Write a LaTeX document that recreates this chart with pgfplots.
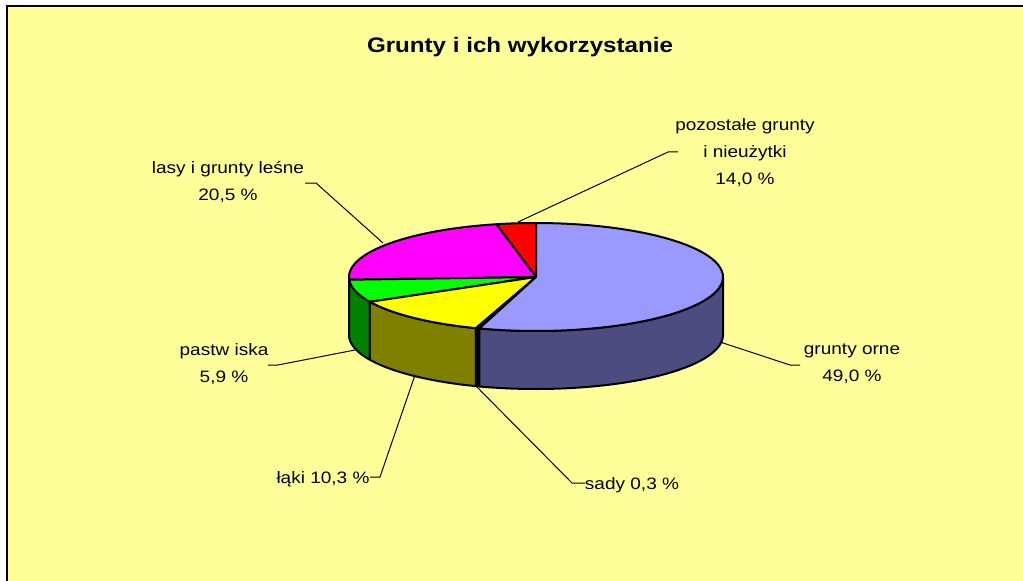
\documentclass[border=0pt]{standalone}
\usepackage{pgfplots}
\pgfplotsset{compat=1.18}
\usepackage{fontspec}
\setmainfont{Liberation Sans}[FakeStretch=1.15]
\definecolor{bgyel}{HTML}{FFFF99}
\definecolor{cblue}{HTML}{9999FF}
\definecolor{cblueside}{HTML}{4C4C80}
\definecolor{cyel}{HTML}{FFFF00}
\definecolor{cyelside}{HTML}{808000}
\definecolor{cgreen}{HTML}{00FF00}
\definecolor{cgreenside}{HTML}{008000}
\definecolor{cmag}{HTML}{FF00FF}
\definecolor{cmagside}{HTML}{800080}
\definecolor{cred}{HTML}{FF0000}
\definecolor{csady}{HTML}{000000}
% slice shares (percent of the drawn pie, counter-clockwise from the top)
\def\vRed{3.4}
\def\vMag{22.4}
\def\vGreen{6.8}
\def\vYel{12.2}
\def\vSady{0.3}
\def\vBlue{54.9}
\pgfmathsetmacro\aA{90}
\pgfmathsetmacro\aB{\aA+3.6*\vRed}
\pgfmathsetmacro\aC{\aB+3.6*\vMag}
\pgfmathsetmacro\aD{\aC+3.6*\vGreen}
\pgfmathsetmacro\aE{\aD+3.6*\vYel}
\pgfmathsetmacro\aF{\aE+3.6*\vSady}
\pgfmathsetmacro\aG{\aF+3.6*\vBlue}
\newcommand{\sideface}[3]{%
  \addplot[fill=#3, draw=black, line width=1.5pt, line join=round, domain=#1:#2, samples=60]
    ({536+187*cos(x)},{277-54*sin(x)})
    -- (axis cs:{536+187*cos(#2)},{335-54*sin(#2)})
    arc[start angle=#2, end angle=#1, x radius=140.25pt, y radius=40.5pt] -- cycle;}
\newcommand{\topface}[3]{%
  \addplot[fill=#3, draw=black, line width=1.5pt, line join=round, domain=#1:#2, samples=60]
    ({536+187*cos(x)},{277-54*sin(x)}) -- (axis cs:536,277) -- cycle;}
\begin{document}
\begin{tikzpicture}
\begin{axis}[x=0.75pt, y=0.75pt, y dir=reverse, xmin=0, xmax=1023, ymin=0, ymax=581,
  hide axis, xtick=\empty, ytick=\empty, clip=false]
\coordinate (BL) at (axis cs:0,581);
\coordinate (TR) at (axis cs:1023,0);
\fill[white] (axis cs:0,0) rectangle (axis cs:1023,581);
\fill[bgyel] (axis cs:7,6) rectangle (axis cs:1023,581);
\draw[line width=1.5pt] (axis cs:7,581) -- (axis cs:7,6) -- (axis cs:1023,6);
% side faces (front half only)
\sideface{180}{\aC}{cmagside}
\sideface{\aC}{\aD}{cgreenside}
\sideface{\aD}{\aE}{cyelside}
\sideface{\aE}{\aF}{csady}
\sideface{\aF}{360}{cblueside}
% top faces
\topface{\aA}{\aB}{cred}
\topface{\aB}{\aC}{cmag}
\topface{\aC}{\aD}{cgreen}
\topface{\aD}{\aE}{cyel}
\topface{\aE}{\aF}{csady}
\topface{\aF}{\aG}{cblue}
% leader lines
\addplot[black, line width=0.75pt, no marks] coordinates {(678,152) (668,152) (518,222)};
\addplot[black, line width=0.75pt, no marks] coordinates {(305,183) (316,183) (383,243)};
\addplot[black, line width=0.75pt, no marks] coordinates {(268,365) (278,365) (355,350)};
\addplot[black, line width=0.75pt, no marks] coordinates {(370,477) (380,477) (415,375)};
\addplot[black, line width=0.75pt, no marks] coordinates {(585,483) (572,483) (476,386)};
\addplot[black, line width=0.75pt, no marks] coordinates {(720,342) (790,365) (800,365)};
% texts
\node[font=\fontsize{15.75}{18}\selectfont\bfseries, anchor=base] at (axis cs:520,53) {Grunty i ich wykorzystanie};
\begin{scope}[every node/.style={font=\fontsize{12.4}{20.25}\selectfont, align=center}]
\node at (axis cs:745,153) {pozostałe grunty\\i nieużytki\\14,0 \%};
\node at (axis cs:228,182) {lasy i grunty leśne\\20,5 \%};
\node at (axis cs:224,364) {pastw iska\\5,9 \%};
\node[anchor=base] at (axis cs:323,483) {łąki 10,3 \%};
\node[anchor=base] at (axis cs:632,489) {sady 0,3 \%};
\node at (axis cs:852,364) {grunty orne\\49,0 \%};
\end{scope}
\end{axis}
\pgfresetboundingbox
\useasboundingbox (BL) rectangle (TR);
\end{tikzpicture}
\end{document}
